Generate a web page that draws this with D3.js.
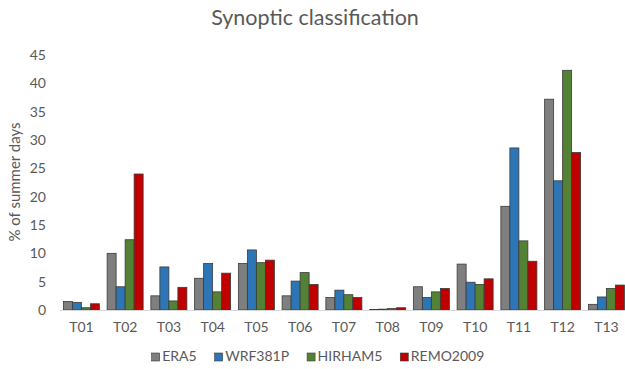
<!DOCTYPE html>
<html>
<head>
<meta charset="utf-8">
<script src="https://cdn.jsdelivr.net/npm/d3@7"></script>
<style>
  html, body { margin: 0; padding: 0; background: #fff; }
  svg { display: block; font-family: Lato, "Open Sans", sans-serif; }
</style>
</head>
<body>
<svg id="chart" width="625" height="369"></svg>
<script>
// Weather-type frequencies (% of summer days) per dataset
const categories = ["T01","T02","T03","T04","T05","T06","T07","T08","T09","T10","T11","T12","T13"];
const seriesNames = ["ERA5","WRF381P","HIRHAM5","REMO2009"];
const era5     = [1.5, 10.0, 2.5, 5.6, 8.2, 2.5, 2.2, 0.1, 4.1, 8.1, 18.3, 37.2, 1.0];
const wrf381p  = [1.35, 4.1, 7.6, 8.2, 10.6, 5.1, 3.5, 0.15, 2.2, 4.9, 28.6, 22.8, 2.3];
const hirham5  = [0.4, 12.4, 1.6, 3.2, 8.35, 6.6, 2.7, 0.25, 3.2, 4.5, 12.2, 42.3, 3.8];
const remo2009 = [1.1, 24.0, 4.0, 6.5, 8.8, 4.5, 2.2, 0.4, 3.8, 5.5, 8.6, 27.8, 4.4];
const yTicks = [0, 5, 10, 15, 20, 25, 30, 35, 40, 45];
const colors = ["#7f7f7f", "#2e75b6", "#548235", "#c00000"];

const seriesValues = [era5, wrf381p, hirham5, remo2009];

const svg = d3.select("#chart");
const textColor = "#595959";
const font = "Lato, 'Open Sans', sans-serif";

const x = d3.scaleBand()
  .domain(categories)
  .range([59.5, 628.25])
  .paddingInner(0.177)
  .paddingOuter(0.0885);

const xs = d3.scaleBand()
  .domain(seriesNames)
  .range([0, x.bandwidth()]);

const y = d3.scaleLinear().domain([0, 45]).range([310, 55]);

// Title
svg.append("text")
  .attr("x", 315).attr("y", 25)
  .attr("text-anchor", "middle")
  .attr("font-size", 21.5)
  .attr("fill", textColor)
  .text("Synoptic classification");

// Y axis labels (no axis line, no gridlines)
const yAxis = d3.axisLeft(y).tickValues(yTicks).tickSize(0).tickPadding(0);
const gy = svg.append("g").attr("transform", "translate(46,0)").call(yAxis);
gy.select(".domain").remove();
gy.selectAll("text").attr("font-size", 14).attr("fill", textColor)
  .attr("font-family", font);

// Y axis title
svg.append("text")
  .attr("transform", "translate(20,182) rotate(-90)")
  .attr("text-anchor", "middle")
  .attr("font-size", 15)
  .attr("fill", textColor)
  .text("% of summer days");

// Bars
const groups = svg.append("g").selectAll("g")
  .data(categories)
  .join("g")
  .attr("transform", d => `translate(${x(d)},0)`);

groups.selectAll("rect")
  .data((c, i) => seriesNames.map((s, k) => ({ s, k, v: seriesValues[k][i] })))
  .join("rect")
  .attr("x", d => xs(d.s))
  .attr("width", xs.bandwidth())
  .attr("y", d => y(d.v))
  .attr("height", d => y(0) - y(d.v))
  .attr("fill", d => colors[d.k])
  .attr("stroke", "#3a3a3a")
  .attr("stroke-width", 0.8);

// X axis
const xAxis = d3.axisBottom(x).tickSize(0).tickPadding(12);
const gx = svg.append("g").attr("transform", "translate(0,310)").call(xAxis);
gx.select(".domain").attr("stroke", "#d9d9d9").attr("stroke-width", 1.2);
gx.selectAll("text").attr("font-size", 14).attr("fill", textColor)
  .attr("font-family", font);

// Legend
const legend = svg.append("g");
const items = legend.selectAll("g").data(seriesNames).join("g");
items.append("rect")
  .attr("width", 8).attr("height", 8)
  .attr("y", -8)
  .attr("fill", (d, i) => colors[i])
  .attr("stroke", "#3a3a3a").attr("stroke-width", 0.6);
items.append("text")
  .attr("x", 10.5).attr("y", 0)
  .attr("font-size", 14)
  .attr("fill", textColor)
  .text(d => d);
let cx = 0;
const gap = 18;
items.each(function () {
  const g = d3.select(this);
  g.attr("transform", `translate(${cx},0)`);
  cx += 10.5 + g.select("text").node().getComputedTextLength() + gap;
});
const total = cx - gap;
legend.attr("transform", `translate(${318 - total / 2},361)`);
</script>
</body>
</html>
